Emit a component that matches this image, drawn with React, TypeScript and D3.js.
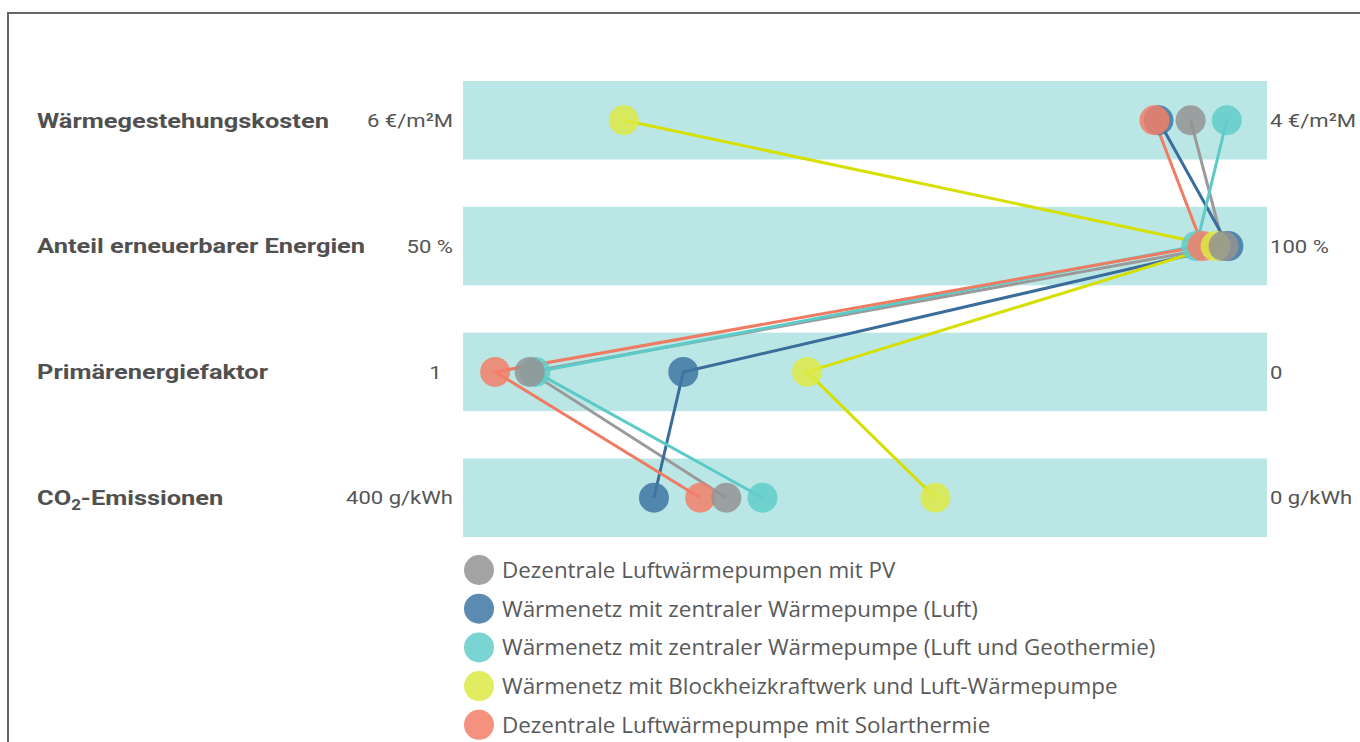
import React, { useEffect, useRef } from 'react';
import * as d3 from 'd3';

const criteria = ['Wärmegestehungskosten', 'Anteil erneuerbarer Energien', 'Primärenergiefaktor', 'CO₂-Emissionen'];
const leftValues = [6, 50, 1, 400];
const rightValues = [4, 100, 0, 0];
const leftTicks = ['6 €/m²M', '50 %', '1\u2002', '400 g/kWh'];
const rightTicks = ['4 €/m²M', '100 %', '0', '0 g/kWh'];

const seriesNames = [
  'Dezentrale Luftwärmepumpen mit PV',
  'Wärmenetz mit zentraler Wärmepumpe (Luft)',
  'Wärmenetz mit zentraler Wärmepumpe (Luft und Geothermie)',
  'Wärmenetz mit Blockheizkraftwerk und Luft-Wärmepumpe',
  'Dezentrale Luftwärmepumpe mit Solarthermie',
];
const dotColors = ['#939393', '#3f75a3', '#62cdca', '#dde945', '#f27f69'];
const lineColors = ['#9a9a9a', '#3a6c9c', '#5ccbc8', '#d6e000', '#ef7b63'];

// one value per criterion, same order as criteria
const pvValues = [4.19, 97.3, 0.917, 269];
const luftValues = [4.27, 97.6, 0.726, 305];
const geoValues = [4.1, 95.6, 0.91, 251];
const bhkwValues = [5.6, 96.8, 0.572, 165];
const solarValues = [4.28, 96.0, 0.96, 282];
const seriesValues = [pvValues, luftValues, geoValues, bhkwValues, solarValues];
// which series sits on top of which where the dots overlap
const drawOrder = [1, 2, 4, 3, 0];

// the source text is rendered wider than Roboto
const stretch = function (this: SVGTextElement, k: number) {
  return this.getComputedTextLength() * k;
};

const App: React.FC = () => {
  const svgRef = useRef<SVGSVGElement | null>(null);

  useEffect(() => {
    const width = 1360;
    const height = 742;
    const svg = d3.select(svgRef.current);
    svg.selectAll('*').remove();
    svg.attr('width', width).attr('height', height);

    const plot = { left: 463, right: 1267, top: 81, bottom: 537 };

    const y = d3.scaleBand()
      .domain(criteria)
      .range([plot.top, plot.bottom])
      .paddingInner(0.376)
      .paddingOuter(0);

    const xScales = criteria.map((c, i) => d3.scaleLinear()
      .domain([leftValues[i], rightValues[i]])
      .range([plot.left, plot.right]));

    // frame
    svg.append('path')
      .attr('d', `M8,${height} L8,13 L${width},13`)
      .attr('fill', 'none')
      .attr('stroke', '#666')
      .attr('stroke-width', 2);

    // bands
    svg.append('g')
      .selectAll('rect')
      .data(criteria)
      .join('rect')
      .attr('x', plot.left)
      .attr('y', d => y(d) as number)
      .attr('width', plot.right - plot.left)
      .attr('height', y.bandwidth())
      .attr('fill', '#bae7e5');

    const cy = (c: string) => (y(c) as number) + y.bandwidth() / 2;

    // criterion labels
    const labels = svg.append('g')
      .attr('font-family', 'Roboto, sans-serif')
      .attr('font-weight', 700)
      .attr('font-size', 21)
      .attr('fill', '#505050');
    criteria.forEach(c => {
      const t = labels.append('text')
        .attr('x', 37)
        .attr('y', cy(c))
        .attr('dy', '0.35em');
      const parts = c.split('₂');
      if (parts.length > 1) {
        t.append('tspan').text(parts[0]);
        t.append('tspan').attr('font-size', 14).attr('dy', 5).text('2');
        t.append('tspan').attr('dy', -5).text(parts[1]);
      } else {
        t.text(c);
      }
      const len = (t.node() as SVGTextElement).getComputedTextLength();
      t.attr('textLength', len * 1.21).attr('lengthAdjust', 'spacingAndGlyphs');
    });

    // left / right value labels
    const ticks = svg.append('g')
      .attr('font-family', 'Roboto, sans-serif')
      .attr('font-size', 19)
      .attr('fill', '#555');
    ticks.selectAll('text.l')
      .data(criteria)
      .join('text')
      .attr('class', 'l')
      .attr('x', 453)
      .attr('y', d => cy(d))
      .attr('dy', '0.35em')
      .attr('text-anchor', 'end')
      .style('white-space', 'pre')
      .text((d, i) => leftTicks[i])
      .attr('textLength', function () { return stretch.call(this, 1.16); })
      .attr('lengthAdjust', 'spacingAndGlyphs');
    ticks.selectAll('text.r')
      .data(criteria)
      .join('text')
      .attr('class', 'r')
      .attr('x', 1270)
      .attr('y', d => cy(d))
      .attr('dy', '0.35em')
      .text((d, i) => rightTicks[i])
      .attr('textLength', function () { return stretch.call(this, 1.16); })
      .attr('lengthAdjust', 'spacingAndGlyphs');

    // lines
    const line = d3.line<number>()
      .x((v, i) => xScales[i](v))
      .y((v, i) => cy(criteria[i]));

    svg.append('g')
      .selectAll('path')
      .data(seriesValues)
      .join('path')
      .attr('d', d => line(d))
      .attr('fill', 'none')
      .attr('stroke', (d, i) => lineColors[i])
      .attr('stroke-width', 3);

    // dots
    const dots = svg.append('g');
    drawOrder.forEach(s => {
      dots.append('g')
        .selectAll('circle')
        .data(seriesValues[s])
        .join('circle')
        .attr('cx', (v, i) => xScales[i](v))
        .attr('cy', (v, i) => cy(criteria[i]))
        .attr('r', 15)
        .attr('fill', dotColors[s])
        .attr('fill-opacity', 0.85);
    });

    // legend
    const legend = svg.append('g')
      .attr('transform', 'translate(479,570)');
    const item = legend.selectAll('g')
      .data(seriesNames)
      .join('g')
      .attr('transform', (d, i) => `translate(0,${i * 38.7})`);
    item.append('circle')
      .attr('r', 15)
      .attr('fill', (d, i) => dotColors[i])
      .attr('fill-opacity', 0.85);
    item.append('text')
      .attr('x', 23)
      .attr('dy', '0.36em')
      .attr('font-family', 'Open Sans, sans-serif')
      .attr('font-size', 22.4)
      .attr('fill', '#595959')
      .text(d => d);
  }, []);

  return (
    <svg ref={svgRef} style={{ position: 'absolute', left: 0, top: 0 }}></svg>
  );
};

export default App;
